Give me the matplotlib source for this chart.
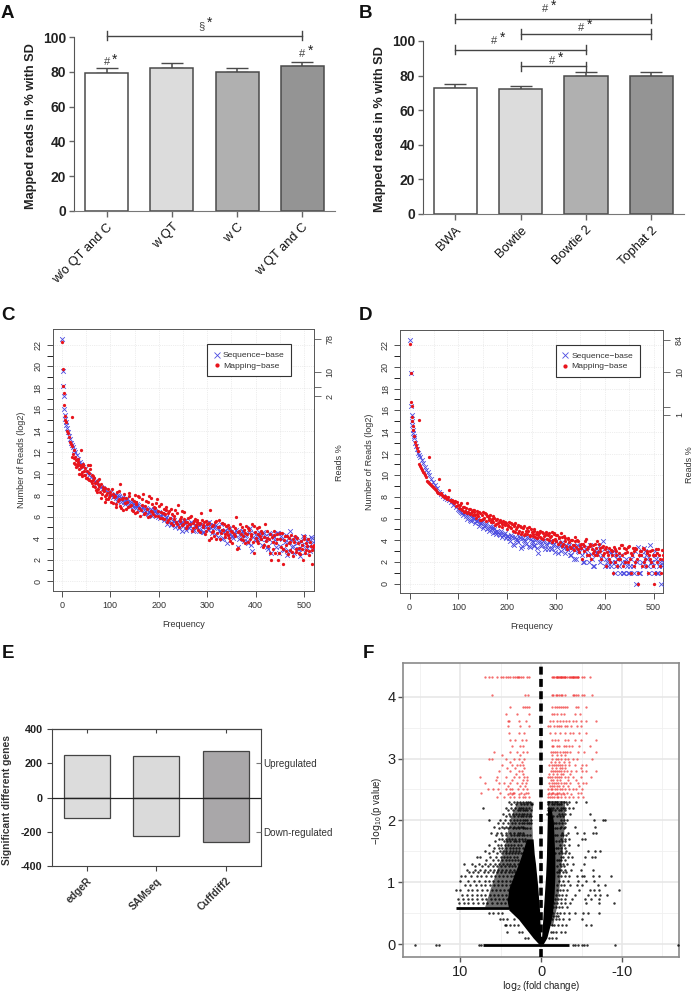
import matplotlib
matplotlib.use('Agg')
import matplotlib.pyplot as plt

plt.rcParams['font.family'] = ['Liberation Sans', 'DejaVu Sans']
plt.rcParams['mathtext.default'] = 'regular'

W, H = 694, 992

# panel A
a_labels = ['w/o QT and C', 'w QT', 'w C', 'w QT and C']
a_values = [79.5, 82.3, 80.0, 83.3]
a_sd = [2.7, 2.6, 2.4, 2.6]
# panel B
b_labels = ['BWA', 'Bowtie', 'Bowtie 2', 'Tophat 2']
b_values = [72.5, 72.2, 79.8, 79.5]
b_sd = [2.5, 1.5, 2.1, 2.5]
bar_colors = ['#ffffff', '#dcdcdc', '#b0b0b0', '#949494']
# brackets: from, to, height
a_brackets = [(0, 3, 101)]
b_brackets = [(0, 3, 113), (1, 3, 104), (0, 2, 95), (1, 2, 85.3)]

# panels C and D, shared ranks
seq_x = [1, 2, 3, 4, 5, 6, 7, 8, 9, 10, 12, 14, 16, 18, 20, 22, 25, 28, 31, 34, 37, 40, 44, 48, 52, 56,
         60, 64, 68, 72, 76, 80, 85, 90, 95, 100,
         104, 108, 112, 116, 120, 124, 128, 132, 136, 140, 144, 148, 152, 156, 160, 164, 168, 172, 176, 180,
         184, 188, 192, 196, 200, 204, 208, 212, 216, 220, 224, 228, 232, 236, 240, 244, 248, 252, 256, 260,
         264, 268, 272, 276, 280, 284, 288, 292, 296, 300, 304, 308, 312, 316, 320, 324, 328, 332, 336, 340,
         344, 348, 352, 356, 360, 364, 368, 372, 376, 380, 384, 388, 392, 396, 400, 404, 408, 412, 416, 420,
         424, 428, 432, 436, 440, 444, 448, 452, 456, 460, 464, 468, 472, 476, 480, 484, 488, 492, 496, 500,
         504, 508, 512, 516, 520]
seq_x2 = [102, 106, 110, 114, 118, 122, 126, 130, 134, 138, 142, 146, 150, 154, 158, 162, 166, 170, 174, 178,
          182, 186, 190, 194, 198, 202, 206, 210, 214, 218, 222, 226, 230, 234, 238, 242, 246, 250, 254, 258,
          262, 266, 270, 274, 278, 282, 286, 290, 294, 298, 302, 306, 310, 314, 318, 322, 326, 330, 334, 338,
          342, 346, 350, 354, 358, 362, 366, 370, 374, 378, 382, 386, 390, 394, 398, 402, 406, 410, 414, 418,
          422, 426, 430, 434, 438, 442, 446, 450, 454, 458, 462, 466, 470, 474, 478, 482, 486, 490, 494, 498,
          502, 506, 510, 514, 518]
map_x = [1, 2, 3, 4, 5, 6, 7, 8, 10, 12, 14, 16, 18, 20, 20, 22, 24, 26, 28, 30, 32, 34, 36, 38, 40, 40,
         42, 44, 46, 48, 50, 52, 54, 56, 58, 60, 62, 64, 66, 68, 70, 72, 74, 76, 78, 80, 82, 84, 86, 88,
         90, 92, 94, 96, 98, 100,
         102, 105, 108, 111, 114, 117, 120, 123, 126, 129, 132, 135, 138, 141, 144, 147, 150, 153, 156, 159,
         162, 165, 168, 171, 174, 177, 180, 183, 186, 189, 192, 195, 198, 201, 204, 207, 210, 213, 216, 219,
         222, 225, 228, 231, 234, 237, 240, 243, 246, 249, 252, 255, 258, 261, 264, 267, 270, 273, 276, 279,
         282, 285, 288, 291, 294, 297, 300, 303, 306, 309, 312, 315, 318, 321, 324, 327, 330, 333, 336, 339,
         342, 345, 348, 351, 354, 357, 360, 363, 366, 369, 372, 375, 378, 381, 384, 387, 390, 393, 396, 399,
         402, 405, 408, 411, 414, 417, 420, 423, 426, 429, 432, 435, 438, 441, 444, 447, 450, 453, 456, 459,
         462, 465, 468, 471, 474, 477, 480, 483, 486, 489, 492, 495, 498, 501, 504, 507, 510, 513, 516, 519]
map_x2 = [103, 106, 109, 112, 115, 118, 121, 124, 127, 130, 133, 136, 139, 142, 145, 148, 151, 154, 157, 160,
          163, 166, 169, 172, 175, 178, 181, 184, 187, 190, 193, 196, 199, 202, 205, 208, 211, 214, 217, 220,
          223, 226, 229, 232, 235, 238, 241, 244, 247, 250, 253, 256, 259, 262, 265, 268, 271, 274, 277, 280,
          283, 286, 289, 292, 295, 298, 301, 304, 307, 310, 313, 316, 319, 322, 325, 328, 331, 334, 337, 340,
          343, 346, 349, 352, 355, 358, 361, 364, 367, 370, 373, 376, 379, 382, 385, 388, 391, 394, 397, 400,
          403, 406, 409, 412, 415, 418, 421, 424, 427, 430, 433, 436, 439, 442, 445, 448, 451, 454, 457, 460,
          463, 466, 469, 472, 475, 478, 481, 484, 487, 490, 493, 496, 499, 502, 505, 508, 511, 514, 517, 520]

c_seq_y = [22.6, 19.6, 18.2, 17.2, 16.0, 15.5, 15.1, 14.8, 14.5, 14.3, 13.9, 13.5, 13.2, 12.9, 12.7, 12.5,
           12.2, 12.0, 11.7, 11.4, 11.1, 10.9, 10.6, 10.4, 10.1, 9.9, 9.7, 9.5, 9.3, 9.1, 8.9, 8.8, 8.7,
           8.5, 8.3, 8.2,
           8.0, 7.9, 7.7, 8.0, 7.6, 7.7, 7.4, 7.6, 7.3, 7.5, 7.1, 7.2, 7.0, 7.2, 6.8, 6.7, 6.9, 6.5, 6.6,
           6.4, 6.7, 6.3, 6.5, 6.2, 6.4,
           6.1, 6.3, 5.8, 6.0, 5.6, 5.9, 5.4, 5.7, 5.5, 5.2, 5.4, 4.7, 5.6, 4.8, 5.3, 5.1, 5.4, 4.8, 5.2,
           5.0, 4.7, 5.3, 4.6, 5.1, 5.4,
           5.5, 4.9, 5.2, 4.4, 5.0, 4.7, 5.3, 4.0, 4.8, 3.5, 4.6, 4.9, 4.2, 4.5, 4.8, 3.2, 4.4, 4.7, 3.7,
           4.3, 3.5, 4.9, 2.8, 4.5, 3.8,
           4.2, 4.6, 3.9, 4.6, 4.2, 3.2, 4.5, 2.6, 4.3, 3.8, 4.5, 2.6, 4.2, 3.0, 3.6, 2.4, 4.1, 4.7, 3.2,
           2.6, 3.9, 3.0, 2.3, 3.4, 4.1, 3.2, 3.9, 2.8, 4.0, 3.1]
c_seq2_y = [8.0, 7.8, 8.1, 7.5, 7.9, 7.4, 7.8, 7.2, 7.6, 7.0, 7.4, 6.9, 7.3, 6.8, 7.1, 6.6, 6.9, 6.3, 6.8, 6.2,
            6.6, 6.1, 6.7, 6.3, 6.0,
            5.9, 6.2, 5.7, 6.0, 5.3, 5.7, 5.2, 5.6, 5.0, 5.5, 4.9, 5.4, 5.1, 5.6, 5.2, 4.9, 5.5, 4.7, 5.2, 5.0,
            5.3, 4.8, 5.1, 4.6, 5.0,
            4.8, 5.2, 4.5, 4.9, 5.2, 4.1, 4.7, 3.9, 4.6, 4.4, 4.9, 4.2, 4.6, 4.0, 4.4, 4.6, 3.9, 4.3, 4.7, 4.2,
            3.7, 4.5, 3.4, 4.1, 3.9,
            3.9, 4.4, 4.0, 3.4, 4.5, 3.9, 3.0, 4.4, 3.6, 4.1, 3.2, 4.5, 3.3, 3.9, 2.9, 4.3, 3.6, 2.8, 3.8, 3.3,
            4.0, 3.5, 3.0, 3.7, 4.2, 2.7, 3.7, 3.3, 4.1, 3.6]
c_map_y = [22.3, 19.8, 18.2, 17.5, 16.4, 15.4, 15.0, 14.8, 14.0, 13.8, 13.4, 13.0, 12.8, 15.3, 12.6, 11.8,
           11.5, 12.2, 10.9, 11.3, 10.7, 11.1, 10.4, 10.8, 12.2, 10.0, 10.2, 10.9, 9.9, 10.5, 9.6, 10.3,
           9.5, 10.1, 10.8, 9.3, 9.9, 8.9, 9.6, 9.1, 8.5, 9.3, 8.6, 9.5, 8.3, 9.0, 8.1, 8.8, 8.4, 7.9,
           8.7, 7.6, 8.2, 8.6, 7.8, 8.3,
           7.4, 8.1, 7.8, 7.2, 8.3, 7.6, 9.0, 6.8, 7.7, 8.1,
           6.7, 7.4, 7.9, 7.0, 7.6, 6.5, 8.0, 7.2, 6.4, 7.8,
           6.1, 7.1, 8.1, 6.3, 7.5, 6.0, 7.9, 6.5, 7.2, 6.2,
           6.8, 7.3, 6.1, 7.0, 6.4, 5.9, 6.7, 6.2, 6.9, 5.7,
           6.5, 5.4, 6.2, 5.8, 6.6, 5.3, 7.1, 5.6, 6.0, 5.2,
           6.4, 5.5, 5.1, 5.9, 5.3, 6.1, 4.9, 5.6, 5.2, 5.7,
           4.8, 5.4, 6.3, 5.0, 5.5, 4.7, 5.3, 3.8, 6.6, 4.6,
           5.2, 4.2, 5.6, 4.5, 5.0, 3.9, 5.4, 4.8, 4.4, 5.1,
           4.3, 4.9, 3.7, 4.6, 5.1, 4.2, 6.0, 3.1, 4.7, 4.4,
           5.0, 3.8, 4.5, 5.1, 3.6, 4.8, 4.2, 5.3, 2.6, 4.6,
           3.7, 4.4, 5.0, 3.9, 4.5, 3.4, 5.3, 4.0, 3.3, 4.4,
           2.0, 3.6, 4.7, 2.6, 3.9, 2.0, 4.5, 3.2, 1.6, 3.8,
           2.8, 4.2, 3.5, 2.9, 4.3, 2.3, 3.6, 2.7, 4.0, 3.1,
           2.5, 3.4, 2.0, 3.9, 2.9, 3.3, 2.4, 3.6, 1.6, 3.2]
c_map2_y = [8.6, 7.3, 7.9, 6.9, 7.5, 8.4, 7.0, 7.6, 6.6, 7.3,
            7.7, 6.9, 8.2, 7.1, 6.6, 7.5, 6.3, 7.4, 7.9, 6.8,
            6.6, 7.6, 6.2, 7.0, 6.7, 7.4, 6.1, 7.7, 6.4, 6.9,
            6.1, 7.6, 6.5, 5.9, 7.2, 6.3, 5.8, 6.6, 5.5, 6.3,
            5.9, 6.7, 5.2, 6.1, 5.5, 6.3, 5.0, 5.8, 6.5, 5.3,
            5.8, 4.9, 5.5, 5.3, 6.0, 4.7, 5.4, 5.8, 5.0, 5.5,
            5.3, 4.6, 5.7, 5.2, 4.4, 5.6, 4.9, 5.4, 4.0, 5.1,
            4.7, 5.5, 3.9, 5.0, 5.7, 4.5, 4.8, 5.3, 4.1, 4.6,
            5.2, 4.0, 4.7, 3.5, 4.4, 4.9, 3.0, 4.6, 5.3, 3.9,
            4.2, 4.8, 3.5, 4.4, 4.9, 3.9, 4.4, 3.6, 5.1, 4.0,
            4.9, 3.5, 4.2, 4.7, 3.2, 4.1, 3.7, 4.7, 3.9, 2.6,
            4.1, 3.0, 4.3, 3.5, 4.4, 2.6, 3.9, 4.5, 3.0, 4.2,
            3.4, 2.5, 4.0, 3.6, 2.7, 3.9, 4.2, 3.0, 3.5, 2.6,
            3.7, 3.0, 4.2, 2.6, 3.5, 3.9, 2.8, 3.3, 2.9, 3.4]
c_near_x = [20, 24, 27, 30, 33, 36, 39, 42, 45, 48, 52, 55, 58, 62, 65, 68, 72, 76, 80, 84, 88, 92, 96, 100,
            34, 44, 54, 64, 74]
c_near_y = [11.6, 11.0, 11.6, 10.6, 10.9, 10.0, 10.6, 9.8, 10.3, 9.9, 9.6, 9.4, 10.4, 9.1, 9.4, 8.8, 8.3, 8.9,
            7.7, 8.5, 7.4, 8.0, 7.6, 8.0, 11.4, 10.7, 10.8, 9.8, 9.0]
d_seq_y = [22.5, 19.4, 16.4, 15.6, 15.0, 14.6, 14.2, 13.9, 13.6, 13.4, 13.0, 12.7, 12.4, 12.1, 11.9, 11.7,
           11.4, 11.1, 10.8, 10.5, 10.3, 10.0, 9.7, 9.4, 9.1, 8.8, 8.5, 8.3, 8.1, 7.9, 7.8, 7.7, 7.5,
           7.3, 7.1, 6.9,
           6.7, 6.5, 6.6, 6.2, 6.4, 5.9, 6.2, 6.0, 5.8, 6.0, 5.6, 5.7, 5.3, 5.5, 5.1, 5.3, 5.0, 5.2, 4.8,
           4.9, 4.6, 4.9, 4.5, 4.7, 4.4,
           4.2, 4.5, 3.7, 4.3, 4.0, 4.4, 3.3, 4.2, 3.9, 4.3, 3.5, 4.1, 3.8, 3.5, 4.1, 2.8, 3.9, 3.6, 4.0,
           3.7, 3.2, 3.9, 3.3, 3.7, 3.9,
           2.8, 3.5, 3.8, 3.3, 3.6, 3.1, 2.6, 3.4, 2.3, 3.1, 3.6, 2.9, 3.3, 2.0, 3.0, 3.4, 2.0, 2.7, 1.6,
           3.1, 2.8, 3.5, 2.4, 3.9, 1.6,
           2.0, 3.0, 1.6, 2.6, 2.0, 1.6, 2.6, 1.0, 2.0, 1.0, 2.3, 1.0, 1.6, 2.6, 1.0, 0.0, 3.4, 1.0, 2.0,
           3.3, 2.6, 1.6, 3.6, 2.0, 1.0, 2.6, 1.0, 1.6, 0.0, 2.0]
d_seq2_y = [6.8, 6.6, 6.3, 6.5, 6.0, 6.3, 5.8, 6.1, 5.6, 5.8, 5.3, 5.6, 5.1, 5.4, 5.0, 4.9, 5.2, 4.7, 5.0, 4.6,
            4.8, 4.5, 4.3, 4.6, 4.2,
            4.4, 3.9, 4.3, 3.6, 4.1, 3.8, 4.2, 3.5, 4.0, 3.7, 4.2, 3.4, 3.9, 3.6, 4.0, 3.3, 3.8, 3.5, 3.9, 3.2,
            3.6, 3.8, 3.2, 3.6, 2.9,
            3.4, 3.7, 3.0, 3.5, 2.8, 3.3, 3.6, 2.6, 3.2, 3.5, 2.3, 3.0, 3.4, 2.6, 2.0, 3.2, 2.6, 3.6, 2.3, 1.6,
            2.8, 3.1, 2.0, 2.6, 3.2,
            2.3, 1.6, 2.8, 2.0, 3.0, 1.0, 2.3, 1.6, 2.6, 1.0, 2.0, 1.6, 1.0, 2.3, 1.6, 3.0, 2.0, 1.0, 2.6, 1.6,
            3.0, 2.3, 1.0, 2.0, 1.6, 3.0, 2.3, 1.0, 2.0, 1.6]
d_map_y = [22.1, 19.4, 16.8, 16.4, 15.4, 15.0, 14.5, 14.2, 13.6, 13.1, 12.8, 12.5, 12.2, 15.1, 11.0, 10.9,
           10.7, 10.5, 10.3, 10.2, 10.0, 9.8, 9.5, 9.4, 11.7, 9.3, 9.2, 9.1, 9.0, 8.9, 8.8, 8.7, 8.6, 8.5,
           8.4, 9.7, 8.3, 8.4, 8.2, 8.1, 8.0, 8.1, 7.9, 7.8, 8.0, 8.6, 7.7, 7.6, 7.7, 7.5, 7.6, 7.4, 7.6,
           7.2, 7.5, 7.3,
           7.0, 7.4, 6.8, 7.1, 6.7, 7.4, 6.6, 6.9, 6.5, 6.8,
           6.6, 6.3, 6.7, 6.2, 6.5, 5.9, 6.6, 6.1, 6.4, 6.2,
           5.9, 6.3, 6.0, 5.7, 6.1, 5.5, 6.0, 5.7, 5.9, 5.5,
           5.8, 5.4, 5.6, 5.3, 5.7, 5.1, 5.5, 5.3, 5.6, 5.0,
           5.4, 4.9, 5.2, 4.8, 5.3, 4.6, 5.1, 4.9, 4.5, 5.0,
           4.6, 4.9, 4.3, 4.8, 4.5, 4.9, 4.2, 4.7, 4.4, 4.6,
           4.1, 4.7, 4.3, 4.8, 4.0, 4.6, 3.9, 4.5, 4.2, 3.8,
           4.3, 3.7, 4.2, 3.5, 4.1, 3.8, 3.3, 4.0, 3.6, 4.3,
           3.4, 3.9, 2.9, 3.7, 2.3, 3.5, 3.9, 2.6, 3.4, 3.7,
           2.3, 3.6, 3.0, 2.6, 3.9, 2.9, 3.3, 2.3, 3.5, 2.8,
           1.6, 2.9, 3.3, 2.0, 3.0, 1.0, 3.2, 2.6, 1.6, 3.3,
           2.3, 3.6, 1.6, 2.8, 3.2, 2.0, 3.5, 1.0, 2.6, 3.0,
           2.0, 3.2, 0.0, 2.6, 3.0, 1.6, 3.2, 2.3, 2.8, 1.0,
           3.0, 2.0, 2.6, 0.0, 1.0, 2.8, 3.2, 2.3, 1.0, 2.6]
d_map2_y = [7.3, 6.9, 7.1, 6.6, 7.0, 6.5, 6.9, 6.4, 6.7, 6.3,
            6.8, 6.1, 6.4, 6.6, 5.9, 6.3, 6.0, 6.5, 5.8, 6.2,
            6.1, 5.7, 5.9, 6.2, 5.4, 5.9, 5.6, 5.3, 5.7, 5.2,
            5.5, 5.7, 5.0, 5.4, 5.2, 5.6, 4.9, 5.4, 4.8, 5.2,
            4.7, 5.3, 4.6, 5.1, 4.5, 4.9, 4.6, 5.2, 4.4, 4.8,
            4.4, 5.0, 4.6, 4.2, 4.7, 4.3, 4.8, 4.1, 4.5, 4.8,
            4.5, 4.0, 4.4, 3.8, 4.7, 4.1, 4.5, 3.7, 4.3, 4.7,
            3.5, 4.4, 3.9, 3.2, 4.2, 3.4, 4.0, 3.6, 3.1, 3.9,
            4.0, 3.2, 3.6, 3.3, 3.7, 3.0, 4.1, 3.2, 2.6, 3.5,
            3.2, 2.8, 3.7, 3.3, 2.6, 3.7, 3.0, 3.4, 2.6, 3.2,
            3.4, 2.6, 2.3, 3.1, 2.6, 3.4, 2.0, 3.0, 2.3, 2.8,
            3.6, 2.6, 3.3, 2.0, 2.9, 3.4, 2.3, 2.8, 3.3, 1.6,
            3.3, 2.3, 1.0, 3.0, 2.6, 3.3, 2.0, 1.6, 3.0, 2.6,
            2.3, 3.1, 1.6, 2.6, 3.2, 2.0, 2.6, 1.6, 3.1, 2.3]
c_right_ticks = [22.6, 19.5, 18.1, 17.2]
c_right_labels = ['78', '10', '', '2']
d_right_ticks = [22.5, 19.5, 16.3, 15.6]
d_right_labels = ['84', '10', '', '1']

# panel E
e_labels = ['edgeR', 'SAMseq', 'Cuffdiff2']
e_up = [250, 244, 273]
e_down = [-118, -224, -257]
e_colors = ['#dcdcdc', '#dadada', '#a9a7a9']

# panel F, read row by row because the p values fall on levels
red_levels = [4.32, 4.02, 3.84, 3.72, 3.61, 3.52, 3.42, 3.3, 3.2, 3.1, 3.0, 2.9, 2.8, 2.7, 2.6, 2.5, 2.45, 2.38,
              3.05, 2.95, 2.85, 2.75, 2.65, 2.55, 2.42]
red_rows = [
    [7, 6.5, 6.1, 5.5, 5, 4.7, 4.3, 4.1, 3.9, 3.5, 3.2, 3, 2.9, 2.7, 2.5, 2.3, 1.8, 1.5, -1.3, -1.5, -1.6, -1.8,
     -1.9, -2.0, -2.1, -2.2, -2.3, -2.4, -2.5, -2.6, -2.7, -2.8, -2.9, -3.0, -3.2, -3.4, -3.6, -3.7, -3.8, -3.9,
     -4.0, -4.1, -4.2, -4.3, -4.4, -4.5, -4.6, -5, -5.3, -6],
    [6.1, 2, 1.6, -1.3, -1.5, -1.8, -2, -2.2, -2.4, -2.6, -3, -3.9, -4.1, -4.3, -4.6, -5.1, -5.3, -6.3],
    [3.8, 2.3, 2, 1.8, 1.5, -1.3, -1.7, -2, -2.2, -2.4, -2.7, -3, -3.2, -4.3, -4.6, -5.5],
    [4.4, 3, 1.5, -1.4, -1.6, -1.9, -2.5, -2.8, -4.2, -4.8],
    [4.1, 4.0, 2.8, 1.9, -1.1, -1.5, -2, -2.3, -2.7, -3.1, -3.4, -3.9, -4.3, -4.9, -5.5, -6.8],
    [4.1, 2.6, 1.5, -.9, -1.1, -1.6, -1.9, -2.2, -2.5, -3, -3.2, -3.7, -4.4, -4.9],
    [4.0, 2.7, 2.1, -1.1, -1.7, -2.3, -2.9, -3.6, -3.9, -4.7, -5.5],
    [3.8, 3.2, 2.4, 1.9, -1.4, -1.7, -2.1, -2.9, -3.3, -4.2, -4.9, -6.8],
    [3.6, 2.6, 2.2, -1.3, -1.5, -2.0, -2.2, -2.8, -3.1, -3.4, -3.8, -4.7, -6.1],
    [5.8, 3.9, 3.0, 2.3, 1.8, -1.2, -1.5, -1.7, -2, -2.3, -2.7, -3, -3.2, -3.6, -4.6, -5.3, -6.8],
    [6.4, 6.1, 4.4, 3.3, 2.7, 2.1, -1.4, -1.8, -2.1, -2.5, -2.9, -3.3, -3.9, -4.4, -6.3],
    [4.8, 3.6, 3, 2.6, 2.2, -1.0, -1.3, -1.6, -1.8, -2.1, -2.3, -2.6, -2.9, -3.5, -4.2, -5, -5.6],
    [5.2, 3.9, 2.7, 2.4, -1.2, -1.5, -1.7, -1.9, -2.2, -2.4, -2.8, -3.2, -3.7, -4.3, -5.1, -5.5, -6.8],
    [7.6, 5.5, 4.4, 3.4, 2.8, 2.1, 1.7, -.9, -1.1, -1.4, -1.7, -1.9, -2.2, -2.5, -2.9, -3.3, -4, -4.9, -6.2],
    [7, 5.2, 4.6, 3.8, 3, 2.4, 1.9, -1, -1.3, -1.6, -1.8, -2.1, -2.4, -2.8, -3.1, -3.6, -4.6, -5.2, -5.6],
    [6.6, 6, 5.4, 4.3, 3.9, 3.6, 2.9, 2.2, 1.7, -.9, -1.2, -1.4, -1.7, -2, -2.3, -2.6, -3.0, -3.5, -3.9, -4.3, -5],
    [7.4, 5.1, 3.8, 3.5, 3.3, 2.5, 1.9, 1.6, -1.0, -1.3, -1.5, -1.9, -2.2, -2.7, -3.2, -4.6, -4.9],
    [5.5, 4.6, 3.9, 3.4, 2.8, 2.3, 2, 1.5, -.8, -1.1, -1.3, -1.6, -1.9, -2.1, -2.4, -2.9, -3.4, -3.9, -4.5, -5.2],
    [-1.4, -1.9, -2.4, -2.9, 4.8, 2.6],
    [-1.2, -1.7, -2.2, -2.8, -3.4, 3.9, 2.4],
    [-1.3, -1.8, -2.3, -2.6, -3.0, -4.9, 4.2, 3.2, 2.1],
    [-1.0, -1.5, -2.0, -2.4, -2.7, -3.6, 3.1, 2.3],
    [-1.2, -1.5, -1.9, -2.3, -3.3, -4.3, 5.6, 3.6, 2.2, 1.8],
    [-1.1, -1.3, -1.6, -1.9, -2.2, -2.7, -3.3, -4.7, 4.1, 2.6, 2.0],
    [-.9, -1.2, -1.7, -2.0, -2.4, -2.8, -3.7, 4.1, 3.6, 2.7, 2.1],
]
black_levels = [2.3, 2.2, 2.1, 2.0, 1.9, 1.8, 1.7, 1.6, 1.5, 1.4, 1.3, 1.2, 1.1, 1.02, .95, .87, .8, .73, .66,
                .5, .4, .3, .2, .1, -.02,
                2.26, 2.16, 2.07, 1.96, 1.87, 1.77, 1.66, 1.56, 1.47, 1.36, 1.26, 1.16, .6, .45]
black_rows = [
    [4, 3.4, 3, 2.6, 2.3, 1.9, 1.6, 1.4, -.8, -1, -1.4, -1.7, -2, -2.4, -2.8, -3.1, -3.5, -4.3, -5.6],
    [7.2, 4.3, 3.7, 3.2, 2.8, 2.5, 2.2, 1.9, 1.5, -.8, -1, -1.2, -1.5, -2, -2.4, -2.7, -3, -3.4, -3.9],
    [4.7, 4, 3.5, 3.1, 2.7, 2.4, 2.1, 1.8, 1.4, -.7, -2.2, -2.6, -3, -3.6, -6.1],
    [6.5, 5.1, 4.5, 3.9, 3.4, 3, 2.6, 2.3, 2, 1.7, 1.3, -2.4, -2.8, -3.2, -6.5, -7.6, -7.9],
    [5.8, 4.9, 4.3, 3.8, 3.3, 2.9, 2.5, 2.2, -2.5, -3, -4.2, -6.7],
    [6.2, 5.5, 5, 4.4, 3.9, 3.4, 2.9, 2.6, 2.3, -2.6, -3.3, -4.4, -5.3, -6.4, -6.8],
    [5.2, 4.8, 4.4, 4, 3.6, 3.2, 2.8, 2.4, 2, -2.4, -2.9, -3.5, -5.1, -5.4],
    [6.5, 5.4, 5, 4.5, 4.1, 3.7, 3.3, 2.9, 2.5, -2.3, -2.8, -3.4, -4.5],
    [7, 5.9, 5.1, 4.7, 4.3, 3.9, 3.5, 3.1, 2.7, -2.5, -3.1, -5.8, -6.7, -7.3],
    [8, 7.6, 6.3, 5.6, 5, 4.6, 4.2, 3.8, 3.4, 3, -2.4, -2.7, -3.3, -3.8, -5.4, -6.3, -6.7],
    [9.5, 8.5, 7.7, 7, 6.3, 5.7, 5.2, 4.7, 4.2, 3.8, 3.3, 2.9, -2.3, -2.7, -3.2, -4, -5.3],
    [9.2, 8.2, 7.6, 6.9, 6.3, 5.8, 5.3, 4.8, 4.3, 3.9, 3.4, -2.2, -2.5, -3, -3.7, -4.9, -6.4],
    [9.9, 9.4, 8.7, 8, 7.4, 6.8, 6.2, 5.7, 5.2, 4.7, 4.2, 3.7, 3.3, -2.1, -2.4, -2.9, -3.4, -4.4, -5, -5.3, -6.4,
     -7.2, -8.7],
    [10, 9, 8.3, 7.7, 7, 6.4, 5.9, 5.4, 4.9, 4.4, 3.9, 3.5, -2.2, -2.7, -3.3, -4.6, -5.6, -6.6],
    [9.4, 8.8, 8.1, 7.5, 6.9, 6.3, 5.8, 5.3, 4.8, 4.3, 3.8, -2, -2.4, -2.8, -3.6, -4.4, -5.1, -7, -7.9],
    [10.5, 10.1, 9.1, 8.5, 7.9, 7.3, 6.7, 6.1, 5.6, 5.1, 4.6, 4.1, -1.9, -2.3, -2.7, -3.2, -4.7, -6, -6.6, -7.2, -9.6],
    [9.8, 9.2, 8.6, 8, 7.4, 6.9, 6.3, 5.8, 5.3, 4.8, 4.3, 3.9, -1.8, -2.2, -2.6, -3.1, -4.2, -5.8, -6.7, -7.3, -8.2],
    [10.3, 9.7, 9.1, 8.5, 7.9, 7.3, 6.8, 6.2, 5.7, 5.2, 4.7, 4.2, -1.7, -2.1, -2.5, -3, -3.8, -5.4, -6.2, -7.2],
    [10.2, 9.6, 9, 8.4, 7.8, 7.2, 6.7, 6.1, 5.5, 5, 4.5, 4, -1.6, -2, -2.4, -2.9, -3.6, -5.6, -7.1, -9],
    [6.4, 5.9, 5.3, 4.8, -1.5, -1.9, -2.3, -2.8, -3.4, -4.2, -5.2, -5.8, -7.1],
    [5.1, 4.7, 4.2, 3.4, -1.4, -1.8, -2.2, -2.7, -3.5, -5.1],
    [4.5, 4.3, 3.8, 3.3, 2.9, -1.3, -1.6, -2.1, -2.6, -3.1, -5.6, -6.2],
    [4.2, 2.8, 2.4, -1.2, -1.5, -1.8, -2.4, -3],
    [2, 1.6, -1, -1.4, -1.8],
    [15.6, 13, 12.6, 7.7, 7.5, -3.9, -4.2, -4.6, -5, -5.3, -5.7, -9.2, -17],
    [3.7, 3.1, 2.5, 2.1, 1.7, 1.3, 1.1, -.9, -1.3, -1.6, -1.9, -2.2, -2.5, -3.2],
    [4.1, 3.5, 2.9, 2.6, 2.3, 2.0, 1.7, 1.2, -.9, -1.3, -1.7, -2.2, -2.5, -2.9],
    [4.4, 3.8, 3.3, 2.9, 2.5, 2.2, 1.9, 1.5, 1.2, -1.5, -1.9, -2.3, -2.7],
    [5.4, 4.7, 4.1, 3.6, 3.2, 2.7, 2.4, 2.1, 1.8, 1.5, 1.2, -1.6, -1.8, -2.2, -2.6, -3.0],
    [5.2, 4.6, 4.1, 3.5, 3.1, 2.7, 2.3, 2.0, 1.7, 1.4, -1.7, -2.0, -2.3, -2.8],
    [5.6, 4.9, 4.3, 3.7, 3.3, 3.0, 2.7, 2.4, 2.1, 1.8, 1.4, -1.7, -2.0, -2.4, -2.7, -3.1],
    [5.7, 4.6, 4.2, 3.8, 3.4, 3.1, 2.7, 2.3, 2.0, 1.7, 1.3, -1.8, -2.2, -2.6, -3.0],
    [5.8, 5.2, 4.8, 4.3, 3.9, 3.5, 3.1, 2.7, 2.3, 1.9, 1.5, -1.8, -2.1, -2.5, -2.9],
    [6.4, 5.5, 4.9, 4.4, 4.0, 3.6, 3.2, 2.9, 2.5, 2.2, 1.8, -1.7, -2.2, -2.6, -3.0, -3.4],
    [6.8, 5.9, 5.3, 4.8, 4.4, 4.0, 3.6, 3.2, 2.9, -1.9, -2.2, -2.5, -3.0],
    [8.2, 7.3, 6.6, 6.0, 5.5, 5, 4.5, 4, 3.6, 3.2, -1.9, -2.4, -2.8],
    [8.9, 8.4, 7.8, 7.1, 6.6, 6, 5.5, 5, 4.5, 4, 3.6, 3.2, -1.9, -2.2, -2.7, -3.1],
    [-1.5, -1.8, -2.2, -2.6, -3.2],
    [-1.5, -1.8, -2.1],
]
# the cloud is too dense to read point by point: outline of the solid black part
cloud_y = [0, .1, .2, .3, .4, .55, .7, .9, 1.1, 1.3, 1.45, 1.7]
cloud_left_out = [.3, 1, 1.6, 2.2, 2.8, 4.0, 4.2, 4.0, 3.4, 2.8, 2.4, 1.8]
cloud_left_in = [0, .05, .1, .13, .17, .2, .3, .4, .55, .7, .85, 1.0]
cloud_right_y = [0, .1, .3, .5, .8, 1.1, 1.4, 1.7, 2.0, 2.2]
cloud_right_in = [0, -.05, -.15, -.25, -.4, -.55, -.65, -.7, -.75, -.8]
cloud_right_out = [-.25, -.7, -1.1, -1.4, -1.6, -1.7, -1.7, -1.6, -1.5, -1.2]
# thinner part round it, dark grey stands for the speckled points
halo_left_y = [.6, .9, 1.2, 1.5, 1.8, 2.05, 2.3]
halo_left_in = [3.0, 2.5, 1.5, 1.1, 1.1, 1.2, 1.0]
halo_left_out = [7.0, 6.3, 5.5, 4.7, 4.2, 3.8, 3.0]
halo_right_y = [.3, .6, .9, 1.2, 1.5, 1.8, 2.1, 2.32]
halo_right_in = [-.6, -.8, -1.0, -1.2, -1.2, -1.1, -.9, -.7]
halo_right_out = [-1.4, -1.9, -2.2, -2.4, -2.6, -2.8, -2.9, -2.9]
row_lines = [(-.02, 7.2, -3.5, 2.0), (.58, 10.5, 4.0, 2.0)]
f_xticks = [10, 0, -10]
f_yticks = [0, 1, 2, 3, 4]


def make_axes(left, top, right, bottom):
    return fig.add_axes([left / W, 1 - bottom / H, (right - left) / W, (bottom - top) / H])


def bar_panel(ax, labels, values, sd, brackets):
    x = list(range(len(values)))
    ax.bar(x, values, width=0.66, color=bar_colors, edgecolor='#4a4a4a', linewidth=1.1, zorder=2)
    ax.errorbar(x, values, yerr=[[0] * len(sd), sd], fmt='none', ecolor='#4a4a4a', elinewidth=1.1,
                capsize=7.8, capthick=1.0, zorder=1)
    ax.set_xlim(-0.5, 3.5)
    ax.set_ylim(0, 100)
    ax.set_yticks([0, 20, 40, 60, 80, 100])
    ax.set_xticks(x)
    ax.set_xticklabels(labels, rotation=45, ha='right', rotation_mode='anchor', fontsize=9.3, color='#111111')
    for lab in ax.get_yticklabels():
        lab.set_fontsize(10)
        lab.set_fontweight('bold')
        lab.set_color('#222222')
    ax.tick_params(axis='y', length=3.5, width=1.0, color='#666666', pad=2)
    ax.tick_params(axis='x', length=4.5, width=1.0, color='#666666', pad=3)
    ax.spines['top'].set_visible(False)
    ax.spines['right'].set_visible(False)
    ax.spines['left'].set_color('#555555')
    ax.spines['bottom'].set_color('#777777')
    ax.set_ylabel('Mapped reads in % with SD', fontsize=9.2, fontweight='bold', color='#222222')
    ax.yaxis.set_label_coords(-0.14, 0.49)
    for x0, x1, h in brackets:
        ax.plot([x0, x1], [h, h], color='#444444', lw=1.0, clip_on=False)
        for xc in (x0, x1):
            ax.plot([xc, xc], [h - 2.7, h + 2.7], color='#444444', lw=1.0, clip_on=False)


def sig_mark(ax, x, y, sign='#'):
    ax.annotate(sign, (x, y), xytext=(0, 0), textcoords='offset points', ha='center', va='center',
                fontsize=8, color='#444444', annotation_clip=False)
    ax.annotate('*', (x, y), xytext=(6, 2), textcoords='offset points', ha='center', va='center',
                fontsize=10, color='#222222', annotation_clip=False)


def scatter_panel(ax, seq_y, map_y, right_ticks, right_labels, label_x):
    blue = ax.scatter(seq_x + seq_x2, seq_y, marker='x', s=11, color='#4a4ae0', linewidths=0.6, zorder=3)
    red = ax.scatter(map_x + map_x2, map_y, marker='o', s=5.5, color='#e8141c', linewidths=0, zorder=4)
    ax.set_xlim(-19, 520)
    ax.set_xticks([0, 100, 200, 300, 400, 500])
    ax.set_yticks(range(0, 23, 2))
    ax.set_yticks(range(0, 23), minor=True)
    ax.grid(True, which='major', color='#dddddd', lw=0.5, ls=':')
    ax.set_xticks([50, 150, 250, 350, 450], minor=True)
    ax.grid(True, which='minor', axis='x', color='#dddddd', lw=0.5, ls=':')
    ax.tick_params(axis='both', labelsize=6.5, colors='#333333', length=4, width=0.6)
    ax.tick_params(axis='x', which='minor', length=0)
    ax.tick_params(axis='y', which='minor', length=4, width=0.6)
    for lab in ax.get_yticklabels():
        lab.set_rotation(90)
        lab.set_va('center')
    for s in ax.spines.values():
        s.set_color('#555555')
        s.set_linewidth(0.7)
    ax.set_xlabel('Frequency', fontsize=6.5, color='#333333', labelpad=7)
    ax.set_ylabel('Number of Reads (log2)', fontsize=6.5, color='#333333', labelpad=5)
    leg = ax.legend([blue, red], ['Sequence\u2212base', 'Mapping\u2212base'], loc='upper left',
                    bbox_to_anchor=(0.592, 0.942), borderaxespad=0, fontsize=6.1, fancybox=False, framealpha=1,
                    edgecolor='#333333', borderpad=0.75, handlelength=0.7, handletextpad=0.4, labelspacing=0.35,
                    labelcolor='#333333', markerscale=1.3)
    leg.get_frame().set_linewidth(0.8)
    leg.set_zorder(6)
    right = ax.twinx()
    right.set_ylim(ax.get_ylim())
    right.set_yticks(right_ticks)
    right.set_yticklabels(right_labels, rotation=90, va='center', fontsize=6.5, color='#333333')
    right.tick_params(axis='y', length=5, width=0.6, color='#555555')
    for s in right.spines.values():
        s.set_visible(False)
    right.set_ylabel('Reads %', fontsize=6.5, color='#333333')
    right.yaxis.set_label_coords(label_x, 0.49)


fig = plt.figure(figsize=(W / 100, H / 100), dpi=100)

# A
ax = make_axes(74, 37.3, 335, 210.7)
bar_panel(ax, a_labels, a_values, a_sd, a_brackets)
sig_mark(ax, 0, 85.6)
sig_mark(ax, 3, 90.5)
sig_mark(ax, 1.45, 106.5, sign='§')

# B
ax = make_axes(422.7, 41, 684, 213.7)
bar_panel(ax, b_labels, b_values, b_sd, b_brackets)
sig_mark(ax, 1.38, 118.5)
sig_mark(ax, 1.92, 107.5)
sig_mark(ax, 0.6, 100)
sig_mark(ax, 1.48, 88.5)

# C
ax = make_axes(52.7, 329.3, 313.7, 591)
ax.set_ylim(-0.93, 23.46)
scatter_panel(ax, c_seq_y + c_seq2_y, c_map_y + c_map2_y, c_right_ticks, c_right_labels, 1.082)
ax.scatter(c_near_x, c_near_y, marker='o', s=5.5, color='#e8141c', linewidths=0, zorder=4)

# D
ax = make_axes(400.3, 330, 663.3, 593)
ax.set_ylim(-0.86, 23.4)
scatter_panel(ax, d_seq_y + d_seq2_y, d_map_y + d_map2_y, d_right_ticks, d_right_labels, 1.082)

# E
ax = make_axes(52.3, 728.7, 260.7, 866.3)
e_x = [0, 1, 2]
ax.bar(e_x, e_up, width=0.66, color=e_colors, edgecolor='#444444', linewidth=0.9, zorder=2)
ax.bar(e_x, e_down, width=0.66, color=e_colors, edgecolor='#444444', linewidth=0.9, zorder=2)
ax.axhline(0, color='#222222', lw=0.9, zorder=3)
ax.set_xlim(-0.495, 2.5)
ax.set_ylim(-400, 400)
ax.set_yticks([-400, -200, 0, 200, 400])
ax.set_yticklabels(['-400', '-200', '0', '200', '400'], fontsize=7.8, fontweight='bold', color='#222222')
ax.set_xticks(e_x)
ax.set_xticklabels(e_labels, rotation=45, ha='right', rotation_mode='anchor', fontsize=7.4, fontweight='bold',
                   color='#333333')
ax.tick_params(axis='both', length=3.5, width=0.8, color='#444444')
for s in ax.spines.values():
    s.set_color('#444444')
ax.set_ylabel('Significant different genes', fontsize=7.4, fontweight='bold', color='#333333')
ax.yaxis.set_label_coords(-0.192, 0.48)
top = ax.secondary_xaxis('top')
top.set_xticks(e_x)
top.tick_params(axis='x', direction='in', length=3, width=0.8, color='#444444', labeltop=False)
right = ax.twinx()
right.set_ylim(-400, 400)
right.set_yticks([200, -200])
right.set_yticklabels(['Upregulated', 'Down-regulated'], fontsize=7.1, color='#333333')
right.tick_params(axis='y', direction='in', length=3.5, width=0.8, color='#777777', pad=2)
for s in right.spines.values():
    s.set_visible(False)

# F
ax = make_axes(403, 663.3, 679.3, 957.3)
ax.set_xlim(17.1, -17.1)
ax.set_ylim(-0.215, 4.54)
ax.set_xticks(f_xticks)
ax.set_yticks(f_yticks)
ax.set_xticks([15, 5, -5, -15], minor=True)
ax.set_yticks([.5, 1.5, 2.5, 3.5], minor=True)
ax.grid(True, which='major', color='#e6e6e6', lw=1.1, zorder=0)
ax.grid(True, which='minor', color='#f0f0f0', lw=0.6, zorder=0)
ax.set_axisbelow(True)
ax.fill_betweenx(halo_left_y, halo_left_in, halo_left_out, color='#333333', alpha=0.7, lw=0, zorder=1.5)
ax.fill_betweenx(halo_right_y, halo_right_in, halo_right_out, color='#333333', alpha=0.75, lw=0, zorder=1.5)
ax.fill_betweenx(cloud_y, cloud_left_in, cloud_left_out, color='black', lw=0, zorder=2)
ax.fill_betweenx(cloud_right_y, cloud_right_in, cloud_right_out, color='black', lw=0, zorder=2)
for y, x0, x1, lw in row_lines:
    ax.plot([x0, x1], [y, y], color='black', lw=lw, zorder=2, solid_capstyle='butt')
for level, row in zip(black_levels, black_rows):
    ax.scatter(row, [level] * len(row), s=3.2, color='black', alpha=0.8, linewidths=0, zorder=3)
for level, row in zip(red_levels, red_rows):
    ax.scatter(row, [level] * len(row), s=2.8, color='#f03030', alpha=0.7, linewidths=0, zorder=3)
ax.axvline(0, color='black', lw=2.6, ls=(0, (2.2, 1.2)), zorder=4)
ax.tick_params(axis='both', labelsize=10.5, length=3.5, width=1.0, color='#555555', labelcolor='#222222', pad=2)
ax.tick_params(axis='both', which='minor', length=0)
ax.set_xticklabels(['10', '0', '-10'])
ax.set_yticklabels(['0', '1', '2', '3', '4'])
for s in ax.spines.values():
    s.set_color('#8a8a8a')
    s.set_linewidth(1.2)
ax.set_xlabel(r'$\log_2$(fold change)', fontsize=6.9, color='#222222', labelpad=0)
ax.set_ylabel(r'$-\log_{10}$(p value)', fontsize=6.9, color='#222222', labelpad=2)

for letter, px, py in [('A', 7, 14), ('B', 366, 14), ('C', 8, 316), ('D', 366, 315), ('E', 8, 654), ('F', 368, 654)]:
    fig.text(px / W, 1 - py / H, letter, fontsize=13.5, fontweight='bold', ha='center', va='center', color='#111111')

fig.savefig('out.png', dpi=100)
